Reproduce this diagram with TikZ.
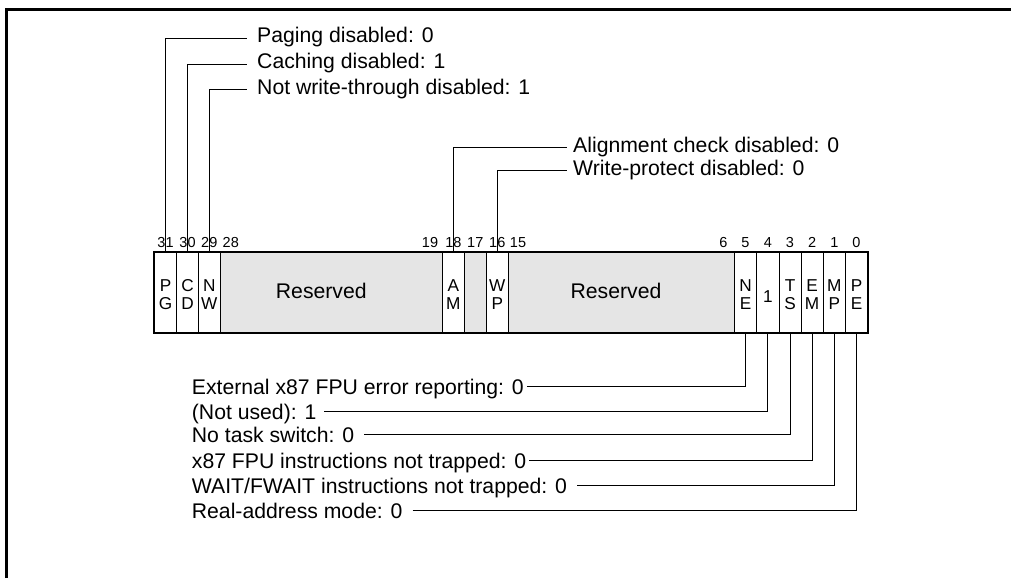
\documentclass[tikz,border=0pt]{standalone}
\usepackage{fontspec}
\setmainfont{Liberation Sans}
\usetikzlibrary{calc}
\begin{document}
\begin{tikzpicture}[x=1pt,y=-1pt,
  cellbox/.style={draw, line width=1pt, minimum height=81pt, inner sep=0pt, outer sep=0pt, anchor=north west},
  resbox/.style={cellbox, fill=gray!20},
  bitnum/.style={font=\fontsize{14.5}{14.5}\selectfont, anchor=base, inner sep=0pt},
  celltxt/.style={font=\fontsize{17.2}{18}\selectfont, align=center, inner sep=0pt},
  restxt/.style={font=\fontsize{21.2}{21.2}\selectfont, anchor=base, inner sep=0pt},
  lbltop/.style={font=\fontsize{21.2}{21.2}\selectfont, inner ysep=0pt, text height=14pt, text depth=5pt, anchor=west},
  lblbot/.style={font=\fontsize{21.2}{21.2}\selectfont, inner ysep=0pt, text height=17pt, text depth=1.8pt, anchor=west},
  conn/.style={line width=1pt, line join=miter}
]
\useasboundingbox (0,0) rectangle (1011,578);
% frame
\draw[line width=3pt] (6.5,578) -- (6.5,9.5) -- (1011,9.5);

% cells
\node[cellbox, minimum width=22.4pt] (PG) at (154.3,252) {};
\node[cellbox, minimum width=21.6pt] (CD) at (176.7,252) {};
\node[cellbox, minimum width=22pt]   (NW) at (198.3,252) {};
\node[resbox,  minimum width=222.2pt] (R1) at (220.3,252) {};
\node[cellbox, minimum width=21.8pt] (AM) at (442.5,252) {};
\node[resbox,  minimum width=22pt]   (B17) at (464.3,252) {};
\node[cellbox, minimum width=22pt]   (WP) at (486.3,252) {};
\node[resbox,  minimum width=226pt]  (R2) at (508.3,252) {};
\node[cellbox, minimum width=22.4pt] (NE) at (734.3,252) {};
\node[cellbox, minimum width=22.3pt] (ONE) at (756.7,252) {};
\node[cellbox, minimum width=22pt]   (TS) at (779,252) {};
\node[cellbox, minimum width=22.3pt] (EM) at (801,252) {};
\node[cellbox, minimum width=22pt]   (MP) at (823.3,252) {};
\node[cellbox, minimum width=22.4pt] (PE) at (845.3,252) {};
\draw[line width=2pt] (PG.north west) rectangle (PE.south east);

% cell texts
\node[celltxt] (tPG) at (PG.center |- 0,294.5) {P\\G};
\node[celltxt] (tCD) at (CD.center |- 0,294.5) {C\\D};
\node[celltxt] (tNW) at (NW.center |- 0,294.5) {N\\W};
\node[restxt]  (tR1) at (321.3,298.3) {Reserved};
\node[celltxt] (tAM) at (AM.center |- 0,294.5) {A\\M};
\node[celltxt] (tWP) at (WP.center |- 0,294.5) {W\\P};
\node[restxt]  (tR2) at (616,298.3) {Reserved};
\node[celltxt] (tNE) at (NE.center |- 0,294.5) {N\\E};
\node[celltxt] (tONE) at (ONE.center |- 0,296.5) {1};
\node[celltxt] (tTS) at (TS.center |- 0,294.5) {T\\S};
\node[celltxt] (tEM) at (EM.center |- 0,294.5) {E\\M};
\node[celltxt] (tMP) at (MP.center |- 0,294.5) {M\\P};
\node[celltxt] (tPE) at (PE.center |- 0,294.5) {P\\E};

% bit numbers
\node[bitnum] (n31) at (PG.center |- 0,247.5) {31};
\node[bitnum] (n30) at (CD.center |- 0,247.5) {30};
\node[bitnum] (n29) at (NW.center |- 0,247.5) {29};
\node[bitnum] (n28) at (230.8,247.5) {28};
\node[bitnum] (n19) at (430,247.5) {19};
\node[bitnum] (n18) at (AM.center |- 0,247.5) {18};
\node[bitnum] (n17) at (B17.center |- 0,247.5) {17};
\node[bitnum] (n16) at (WP.center |- 0,247.5) {16};
\node[bitnum] (n15) at (518,247.5) {15};
\node[bitnum] (n6)  at (723.5,247.5) {6};
\node[bitnum] (n5)  at (NE.center |- 0,247.5) {5};
\node[bitnum] (n4)  at (ONE.center |- 0,247.5) {4};
\node[bitnum] (n3)  at (TS.center |- 0,247.5) {3};
\node[bitnum] (n2)  at (EM.center |- 0,247.5) {2};
\node[bitnum] (n1)  at (MP.center |- 0,247.5) {1};
\node[bitnum] (n0)  at (PE.center |- 0,247.5) {0};

% top labels
\node[lbltop, inner xsep=10pt] (lPG) at (247,38.5) {Paging disabled: 0};
\node[lbltop, inner xsep=10pt] (lCD) at (247,64.5) {Caching disabled: 1};
\node[lbltop, inner xsep=10pt] (lNW) at (247,89.5) {Not write-through disabled: 1};
\node[lbltop, inner xsep=6pt] (lAM) at (567,147.5) {Alignment check disabled: 0};
\node[lbltop, inner xsep=6pt] (lWP) at (567,170.5) {Write-protect disabled: 0};
\draw[conn] (PG.north) |- (lPG.west);
\draw[conn] (CD.north) |- (lCD.west);
\draw[conn] (NW.north) |- (lNW.west);
\draw[conn] (AM.north) |- (lAM.west);
\draw[conn] (WP.north) |- (lWP.west);

% bottom labels
\node[lblbot, inner xsep=3pt]  (lNE) at (188.7,386.5) {External x87 FPU error reporting: 0};
\node[lblbot, inner xsep=7.6pt] (lONE) at (184.1,411.5) {(Not used): 1};
\node[lblbot, inner xsep=10pt] (lTS) at (181.7,434.5) {No task switch: 0};
\node[lblbot, inner xsep=3pt]  (lEM) at (188.7,460.5) {x87 FPU instructions not trapped: 0};
\node[lblbot, inner xsep=10pt] (lMP) at (181.7,485.5) {WAIT/FWAIT instructions not trapped: 0};
\node[lblbot, inner xsep=10pt] (lPE) at (181.7,510.5) {Real-address mode: 0};
\draw[conn] (lNE.east) -| (NE.south);
\draw[conn] (lONE.east) -| (ONE.south);
\draw[conn] (lTS.east) -| (TS.south);
\draw[conn] (lEM.east) -| (EM.south);
\draw[conn] (lMP.east) -| (MP.south);
\draw[conn] (lPE.east) -| (PE.south);
\end{tikzpicture}
\end{document}
